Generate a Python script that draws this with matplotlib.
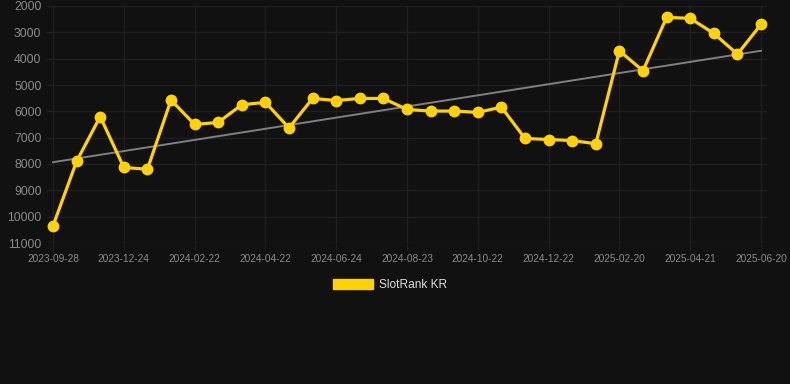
import numpy as np
import matplotlib
matplotlib.use("Agg")
import matplotlib.pyplot as plt

dates = [
    "2023-09-28", "2023-10-27", "2023-11-25", "2023-12-24", "2024-01-13",
    "2024-02-02", "2024-02-22", "2024-03-13", "2024-04-02", "2024-04-22",
    "2024-05-13", "2024-06-03", "2024-06-24", "2024-07-14", "2024-08-03",
    "2024-08-23", "2024-09-12", "2024-10-02", "2024-10-22", "2024-11-11",
    "2024-12-02", "2024-12-22", "2025-01-11", "2025-01-31", "2025-02-20",
    "2025-03-12", "2025-04-01", "2025-04-21", "2025-05-11", "2025-05-31",
    "2025-06-20",
]
rank = [
    10350, 7900, 6200, 8130, 8200, 5570, 6500, 6420, 5750, 5660,
    6630, 5510, 5590, 5510, 5510, 5930, 5990, 5990, 6040, 5840,
    7030, 7070, 7110, 7230, 3700, 4460, 2430, 2470, 3040, 3830,
    2700,
]
series_name = "SlotRank KR"
y_ticks = [2000, 3000, 4000, 5000, 6000, 7000, 8000, 9000, 10000, 11000]

plt.rcParams['font.family'] = ['Liberation Sans', 'DejaVu Sans']

bg = "#111111"
grid = "#1f1f1f"
gold = "#FFD200"

fig = plt.figure(figsize=(7.9, 3.84), dpi=100, facecolor=bg)
ax = fig.add_axes([47 / 790, 1 - 243 / 384, 720 / 790, 237 / 384], facecolor=bg)

x = np.arange(len(rank))
# linear trend through the ranks
coef = np.polyfit(x, rank, 1)
ax.plot(x, np.polyval(coef, x), color="#808080", lw=1.4, zorder=2)
ax.plot(x, rank, color=gold, lw=2.3, marker="o", ms=7.5, zorder=3, label=series_name)

ax.set_ylim(11000, 2000)
ax.set_yticks(y_ticks)
ax.set_xlim(-6 / 23.6, len(rank) - 1 + 6 / 23.6)
ax.set_xticks(x[::3])
ax.set_xticklabels(dates[::3])

ax.grid(True, color=grid, lw=1)
for s in ax.spines.values():
    s.set_visible(False)
ax.tick_params(axis="y", length=0, pad=4, labelsize=8.8, labelcolor="#8a8a8a")
ax.tick_params(axis="x", length=5, color=grid, pad=3, labelsize=7.3, labelcolor="#8a8a8a")

leg = fig.legend(handles=[plt.Rectangle((0, 0), 1, 1, color=gold)], labels=[series_name],
                 loc="center", bbox_to_anchor=(390 / 790, 1 - 285 / 384), frameon=False,
                 handlelength=3.3, handleheight=1.0, handletextpad=0.5, fontsize=8.6)
for t in leg.get_texts():
    t.set_color("#dddddd")

fig.savefig("out.png", facecolor=bg)
